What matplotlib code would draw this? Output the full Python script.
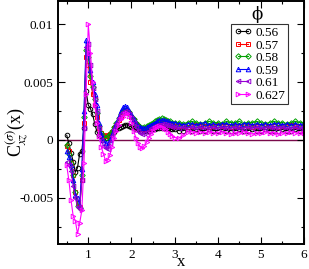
import numpy as np
import matplotlib
matplotlib.use("Agg")
import matplotlib.pyplot as plt
from matplotlib.ticker import MultipleLocator, FuncFormatter

plt.rcParams['font.family'] = ['Liberation Serif', 'DejaVu Serif']
plt.rcParams['mathtext.fontset'] = 'stix'
plt.rcParams['axes.unicode_minus'] = False

# x grid: fine near contact, coarser in the tail
x_near = [0.50, 0.55, 0.60, 0.65, 0.70, 0.75, 0.80, 0.85, 0.90, 0.95,
          1.00, 1.05, 1.10, 1.15, 1.20, 1.25, 1.30, 1.35, 1.40, 1.45,
          1.50, 1.55, 1.60, 1.65, 1.70, 1.75, 1.80, 1.85, 1.90, 1.95,
          2.00, 2.05, 2.10, 2.15, 2.20, 2.25, 2.30, 2.35, 2.40, 2.45,
          2.50, 2.55, 2.60, 2.65, 2.70, 2.75, 2.80, 2.85, 2.90, 2.95, 3.00]
x_tail = [3.1, 3.2, 3.3, 3.4, 3.5, 3.6, 3.7, 3.8, 3.9, 4.0,
          4.1, 4.2, 4.3, 4.4, 4.5, 4.6, 4.7, 4.8, 4.9, 5.0,
          5.1, 5.2, 5.3, 5.4, 5.5, 5.6, 5.7, 5.8, 5.9, 6.0]

# values in units of 1e-3
c056 = [0.4, -0.3, -1.1, -1.9, -2.8, -2.4, -1.2, -1.0, 1.0, 4.2,
        3.0, 2.7, 2.2, 1.4, 0.7, 0.4, 0.3, 0.2, 0.2, 0.3,
        0.4, 0.5, 0.7, 0.9, 1.0, 1.1, 1.2, 1.3, 1.3, 1.2,
        1.1, 1.0, 0.9, 0.9, 0.8, 0.8, 0.8, 0.8, 0.8, 0.9,
        0.9, 0.9, 1.0, 1.0, 1.0, 1.0, 1.0, 1.0, 0.9, 0.9, 0.9,
        0.8, 0.8, 0.9, 0.8, 0.9, 0.8, 0.8, 0.9, 0.8, 0.8,
        0.9, 0.8, 0.8, 0.8, 0.9, 0.8, 0.8, 0.9, 0.8, 0.8,
        0.9, 0.8, 0.8, 0.8, 0.9, 0.8, 0.8, 0.9, 0.8, 0.8]
c057 = [-0.5, -1.0, -2.0, -3.0, -4.5, -5.5, -5.8, -3.5, 1.5, 7.2,
        6.5, 5.0, 4.0, 3.0, 2.0, 1.0, 0.6, 0.4, 0.3, 0.4,
        0.5, 0.7, 1.0, 1.3, 1.7, 2.0, 2.3, 2.4, 2.4, 2.3,
        2.0, 1.7, 1.4, 1.2, 1.0, 0.9, 0.9, 0.9, 1.0, 1.1,
        1.2, 1.3, 1.4, 1.4, 1.5, 1.5, 1.4, 1.4, 1.3, 1.3, 1.2,
        1.2, 1.2, 1.1, 1.2, 1.3, 1.2, 1.2, 1.1, 1.2, 1.3,
        1.2, 1.2, 1.1, 1.2, 1.2, 1.3, 1.2, 1.1, 1.2, 1.2,
        1.3, 1.2, 1.2, 1.1, 1.2, 1.2, 1.3, 1.2, 1.2, 1.2]
c058 = [-0.4, -1.2, -2.0, -3.0, -4.5, -5.7, -5.9, -3.0, 2.0, 7.8,
        7.2, 5.5, 4.6, 3.5, 2.3, 1.2, 0.6, 0.3, 0.2, 0.3,
        0.5, 0.8, 1.1, 1.5, 1.9, 2.2, 2.5, 2.6, 2.6, 2.4,
        2.1, 1.8, 1.5, 1.3, 1.1, 1.0, 1.1, 1.2, 1.3, 1.4,
        1.5, 1.6, 1.7, 1.8, 1.9, 1.8, 1.7, 1.6, 1.6, 1.5, 1.5,
        1.5, 1.4, 1.5, 1.6, 1.5, 1.4, 1.5, 1.6, 1.5, 1.5,
        1.4, 1.6, 1.5, 1.5, 1.6, 1.4, 1.5, 1.5, 1.6, 1.5,
        1.4, 1.5, 1.6, 1.5, 1.5, 1.4, 1.5, 1.6, 1.5, 1.5]
c059 = [-1.0, -1.5, -2.2, -3.5, -4.8, -5.0, -5.7, -2.5, 2.5, 8.6,
        7.5, 6.0, 5.0, 4.0, 3.0, 1.5, 0.5, 0.0, -0.3, -0.4,
        0.0, 0.5, 1.0, 1.5, 2.0, 2.5, 2.8, 2.9, 2.8, 2.5,
        2.2, 1.8, 1.5, 1.2, 1.1, 1.0, 1.0, 1.1, 1.2, 1.3,
        1.4, 1.5, 1.6, 1.7, 1.7, 1.7, 1.6, 1.6, 1.5, 1.5, 1.5,
        1.4, 1.3, 1.4, 1.4, 1.3, 1.4, 1.5, 1.3, 1.4, 1.3,
        1.4, 1.4, 1.3, 1.4, 1.3, 1.4, 1.4, 1.3, 1.4, 1.3,
        1.4, 1.3, 1.4, 1.4, 1.3, 1.4, 1.3, 1.4, 1.3, 1.4]
c061 = [-1.9, -2.2, -2.7, -4.0, -5.0, -5.8, -6.0, -3.5, 1.0, 8.0,
        8.3, 6.5, 4.5, 3.5, 2.5, 1.0, 0.0, -0.5, -0.7, -0.8,
        -0.3, 0.3, 0.9, 1.4, 1.9, 2.2, 2.4, 2.5, 2.4, 2.2,
        1.9, 1.5, 1.1, 0.8, 0.6, 0.5, 0.6, 0.7, 0.8, 1.0,
        1.1, 1.2, 1.3, 1.3, 1.4, 1.4, 1.3, 1.3, 1.2, 1.1, 1.1,
        1.0, 1.1, 1.0, 1.1, 1.0, 1.1, 1.0, 1.0, 1.1, 1.0,
        1.1, 1.0, 1.0, 1.1, 1.0, 1.0, 1.1, 1.0, 1.1, 1.0,
        1.0, 1.1, 1.0, 1.0, 1.1, 1.0, 1.0, 1.1, 1.0, 1.0]
c0627 = [-2.2, -3.5, -5.2, -6.6, -7.0, -8.1, -7.2, -6.1, -2.0, 4.0,
         10.0, 7.5, 5.0, 3.0, 1.5, 0.3, -0.6, -1.2, -1.8, -1.7,
         -1.3, -0.6, 0.2, 0.8, 1.3, 1.8, 2.0, 2.2, 2.3, 2.1,
         1.5, 0.8, 0.2, -0.3, -0.6, -0.7, -0.5, -0.2, 0.2, 0.5,
         0.8, 1.0, 1.1, 1.2, 1.1, 1.0, 0.9, 0.7, 0.5, 0.3, 0.2,
         0.15, 0.4, 0.7, 0.7, 0.6, 0.7, 0.6, 0.7, 0.6, 0.6,
         0.7, 0.6, 0.5, 0.6, 0.6, 0.7, 0.6, 0.5, 0.6, 0.6,
         0.7, 0.6, 0.6, 0.5, 0.6, 0.6, 0.7, 0.6, 0.6, 0.6]

labels = ["0.56", "0.57", "0.58", "0.59", "0.61", "0.627"]
series = [c056, c057, c058, c059, c061, c0627]
colors = ["black", "#ff0000", "#00a000", "#0000ff", "#9400d3", "#ff00ff"]
markers = ["o", "s", "D", "^", "<", ">"]

x = np.array(x_near + x_tail)

fig = plt.figure(figsize=(3.09, 2.69), dpi=100)
ax = fig.add_axes([0.188, 0.093, 0.796, 0.903])

ax.axhline(0, color="#7a0a4a", lw=1.0, zorder=1)
for lab, s, c, m in zip(labels, series, colors, markers):
    ms = 2.8 if m == "D" else 3.3
    ax.plot(x, np.array(s) * 1e-3, color=c, marker=m, ms=ms, mfc="none",
            mew=0.7, lw=0.8, label=lab, zorder=2)

ax.set_xlim(0.3, 6.0)
ax.set_ylim(-0.009, 0.012)
ax.xaxis.set_major_locator(MultipleLocator(1))
ax.xaxis.set_minor_locator(MultipleLocator(0.5))
ax.yaxis.set_major_locator(MultipleLocator(0.005))
ax.yaxis.set_minor_locator(MultipleLocator(0.0025))
ax.yaxis.set_major_formatter(FuncFormatter(lambda v, p: "%g" % round(v, 6)))
ax.tick_params(which="both", direction="in", top=True, right=True,
               labelsize=9.5, width=0.8)
ax.tick_params(which="major", length=5)
ax.tick_params(which="minor", length=2.5)
for sp in ax.spines.values():
    sp.set_linewidth(1.4)

ax.set_xlabel("x", fontsize=12)
ax.xaxis.set_label_coords(0.5, -0.042)
ax.set_ylabel(r"C$_{xz}^{(\sigma)}$(x)", fontsize=13)
ax.yaxis.set_label_coords(-0.11, 0.46)

leg = ax.legend(loc="upper right", bbox_to_anchor=(0.935, 0.905),
                fontsize=9.5, frameon=True, fancybox=False, numpoints=2,
                handlelength=1.4, handletextpad=0.25, borderpad=0.2,
                labelspacing=0.02, borderaxespad=0.0)
leg.get_frame().set_edgecolor("black")
leg.get_frame().set_linewidth(0.8)
ax.text(0.81, 0.945, "\u03d5", transform=ax.transAxes, fontsize=12,
        ha="center", va="center", family=["DejaVu Serif"])

fig.savefig("out.png", dpi=100)
